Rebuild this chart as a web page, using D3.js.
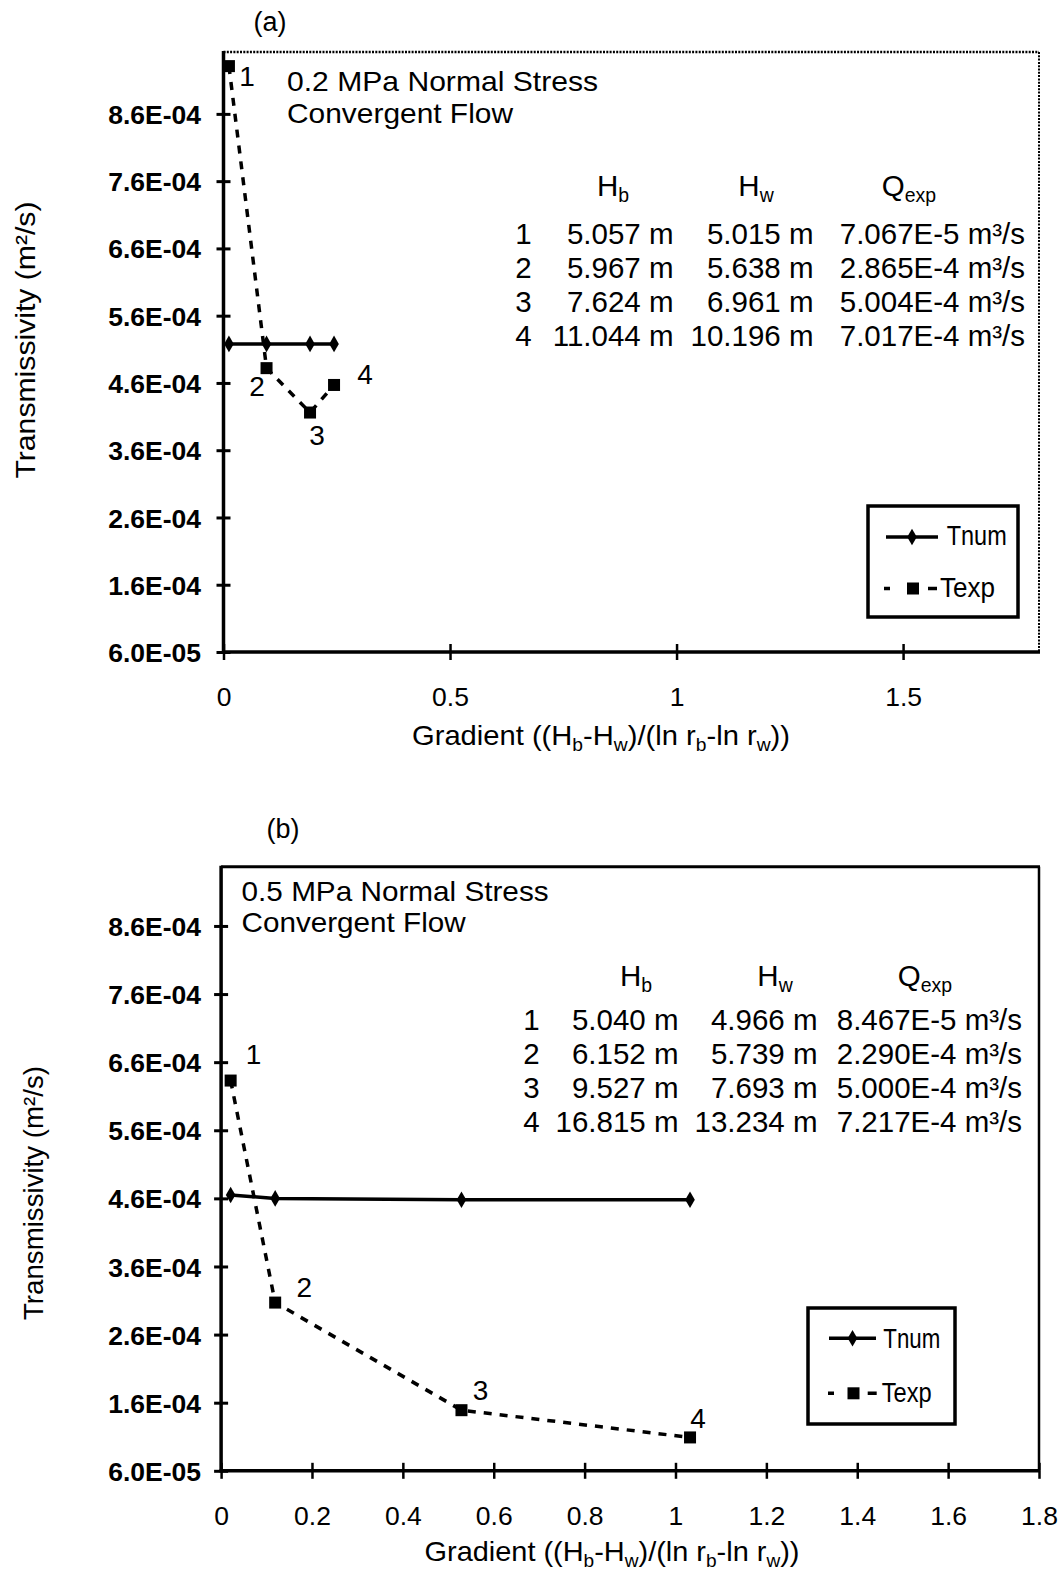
<!DOCTYPE html>
<html><head><meta charset="utf-8">
<script src="https://cdn.jsdelivr.net/npm/d3@7"></script>
<style>
body{margin:0;background:#fff}
svg{display:block;background:#fff}
text{font-family:"Liberation Sans",Arial,Helvetica,sans-serif;fill:#000}
</style>
</head><body>
<svg id="c" width="1060" height="1579"></svg>
<script>
// ---------------- data ----------------
const yTickValues = [6e-5, 1.6e-4, 2.6e-4, 3.6e-4, 4.6e-4, 5.6e-4, 6.6e-4, 7.6e-4, 8.6e-4];
const yTickLabels = ["6.0E-05","1.6E-04","2.6E-04","3.6E-04","4.6E-04","5.6E-04","6.6E-04","7.6E-04","8.6E-04"];
const xTicksA = [0, 0.5, 1, 1.5];
const xTickLabelsA = ["0","0.5","1","1.5"];
const xTicksB = [0, 0.2, 0.4, 0.6, 0.8, 1, 1.2, 1.4, 1.6, 1.8];
const xTickLabelsB = ["0","0.2","0.4","0.6","0.8","1","1.2","1.4","1.6","1.8"];
const pointIds = ["1","2","3","4"];
const seriesNames = ["Tnum","Texp"];

// panel (a): 0.2 MPa
const gradientA = [0.012, 0.095, 0.191, 0.244];
const tnumA = [5.18e-4, 5.18e-4, 5.18e-4, 5.18e-4];
const texpA = [9.31e-4, 4.82e-4, 4.16e-4, 4.57e-4];
const hbA = ["5.057 m","5.967 m","7.624 m","11.044 m"];
const hwA = ["5.015 m","5.638 m","6.961 m","10.196 m"];
const qA  = ["7.067E-5","2.865E-4","5.004E-4","7.017E-4"];

// panel (b): 0.5 MPa
const gradientB = [0.021, 0.119, 0.529, 1.032];
const tnumB = [4.65e-4, 4.60e-4, 4.58e-4, 4.58e-4];
const texpB = [6.33e-4, 3.07e-4, 1.49e-4, 1.09e-4];
const hbB = ["5.040 m","6.152 m","9.527 m","16.815 m"];
const hwB = ["4.966 m","5.739 m","7.693 m","13.234 m"];
const qB  = ["8.467E-5","2.290E-4","5.000E-4","7.217E-4"];

// ---------------- layout ----------------
const panelA = {
  letter:"(a)", letterPos:[270,31],
  x0:223.5, x1:1039, yb:652, yt:52, ymax:9.52e-4, xmax:1.8,
  xTicks:xTicksA, xTickLabels:xTickLabelsA, xLabelDY:54,
  yLabelPad:22.5,
  dottedFrame:true,
  stress:"0.2 MPa Normal Stress", stressPos:[287,90.5,311], flowPos:[287,123,226],
  tableHeadY:196, headX:[613,756,909], rowY:[244,278,312,346],
  colX:[523.5,673.5,813.5,1025],
  legend:{x:868,y:506,w:150,h:111, l1:[886,938,537], t1:[946.7,545,60], l2:[884,937,588.5], sq:913, t2:[940,597,55]},
  labelOff:[[18,20],[-9.5,28],[7,32],[31,-1]],
  yTitle:[35,340,277], xTitle:[601,745,378]
};
const panelB = {
  letter:"(b)", letterPos:[283,838],
  x0:221.1, x1:1039, yb:1470.8, yt:866.7, ymax:9.47e-4, xmax:1.8,
  xTicks:xTicksB, xTickLabels:xTickLabelsB, xLabelDY:1525-1470.8,
  yLabelPad:20,
  dottedFrame:false,
  stress:"0.5 MPa Normal Stress", stressPos:[241.6,901,307], flowPos:[241.6,932,224],
  tableHeadY:986, headX:[636,775,925], rowY:[1030,1064,1098,1132],
  colX:[531.5,678.5,817.5,1022],
  legend:{x:808,y:1308,w:147,h:116, l1:[829,876,1338.3], t1:[883.3,1348,57], l2:[828,876.7,1393.3], sq:853.5, t2:[881.7,1402,50]},
  labelOff:[[23,-17],[29,-6],[19,-10],[8,-9]],
  yTitle:[43,1193,254], xTitle:[612,1561,375]
};

const svg = d3.select("#c");

function subText(sel, parts, size){
  parts.forEach(([t, sub], i) => {
    const ts = sel.append("tspan").text(t);
    if (sub) ts.attr("font-size", size*0.66).attr("dy", size*0.22);
    else if (i>0 && parts[i-1][1]) ts.attr("dy", -size*0.22);
  });
}

function drawPanel(p, grad, tnum, texp, hb, hw, q){
  const g = svg.append("g");
  const x = d3.scaleLinear().domain([0, p.xmax]).range([p.x0, p.x1]);
  const y = d3.scaleLinear().domain([6e-5, p.ymax]).range([p.yb, p.yt]);

  // frame
  const fr = g.append("g").attr("stroke","#000").attr("fill","none");
  if (p.dottedFrame){
    fr.append("line").attr("x1",p.x0).attr("x2",p.x1).attr("y1",p.yt).attr("y2",p.yt)
      .attr("stroke-width",2.5).attr("stroke-dasharray","2,1.3");
    fr.append("line").attr("x1",p.x1).attr("x2",p.x1).attr("y1",p.yt).attr("y2",p.yb)
      .attr("stroke-width",2).attr("stroke-dasharray","2,1.3");
  } else {
    fr.append("line").attr("x1",p.x0).attr("x2",p.x1+1).attr("y1",p.yt).attr("y2",p.yt).attr("stroke-width",3);
    fr.append("line").attr("x1",p.x1).attr("x2",p.x1).attr("y1",p.yt).attr("y2",p.yb).attr("stroke-width",2.5);
  }

  // y axis: labels + crossing ticks
  const ya = g.append("g").attr("transform",`translate(${p.x0},0)`)
    .call(d3.axisLeft(y).tickValues(yTickValues).tickFormat((d,i)=>yTickLabels[i]).tickSize(7))
    .call(s=>s.select(".domain").remove());
  ya.selectAll("line").attr("stroke","#000").attr("stroke-width",3);
  ya.selectAll("text").attr("x",-p.yLabelPad).attr("dy","0.36em")
    .attr("font-size",26.5).attr("font-weight","bold")
    .style("font-family",'"Liberation Sans",Arial,sans-serif');
  g.append("g").attr("transform",`translate(${p.x0},0)`)
    .call(d3.axisRight(y).tickValues(yTickValues).tickFormat("").tickSize(7))
    .call(s=>s.select(".domain").remove())
    .selectAll("line").attr("stroke","#000").attr("stroke-width",3);

  // x axis
  const xa = g.append("g").attr("transform",`translate(0,${p.yb})`)
    .call(d3.axisBottom(x).tickValues(p.xTicks).tickFormat((d,i)=>p.xTickLabels[i]).tickSize(8))
    .call(s=>s.select(".domain").remove());
  xa.selectAll("line").attr("stroke","#000").attr("stroke-width",2.5);
  xa.selectAll("text").attr("y",p.xLabelDY).attr("dy",0).attr("font-size",26.5)
    .style("font-family",'"Liberation Sans",Arial,sans-serif');
  g.append("g").attr("transform",`translate(0,${p.yb})`)
    .call(d3.axisTop(x).tickValues(p.xTicks).tickFormat("").tickSize(8))
    .call(s=>s.select(".domain").remove())
    .selectAll("line").attr("stroke","#000").attr("stroke-width",2.5);

  // axis lines (thick)
  g.append("line").attr("x1",p.x0).attr("x2",p.x0).attr("y1",p.yt-1).attr("y2",p.yb+1.5)
    .attr("stroke","#000").attr("stroke-width",3.5);
  g.append("line").attr("x1",p.x0-1.5).attr("x2",p.x1+1).attr("y1",p.yb).attr("y2",p.yb)
    .attr("stroke","#000").attr("stroke-width",3.5);

  // series
  const idx = d3.range(grad.length);
  const lineNum = d3.line().x(i=>x(grad[i])).y(i=>y(tnum[i]));
  const lineExp = d3.line().x(i=>x(grad[i])).y(i=>y(texp[i]));
  g.append("path").attr("d",lineNum(idx)).attr("fill","none").attr("stroke","#000").attr("stroke-width",3.5);
  g.append("path").attr("d",lineExp(idx)).attr("fill","none").attr("stroke","#000")
    .attr("stroke-width",3.5).attr("stroke-dasharray","8,8");
  const diamond = d3.symbol().type(d3.symbolDiamond).size(80);
  g.selectAll(null).data(idx).join("path").attr("d",diamond)
    .attr("transform",i=>`translate(${x(grad[i])},${y(tnum[i])})`).attr("fill","#000");
  g.selectAll(null).data(idx).join("rect")
    .attr("x",i=>x(grad[i])-6).attr("y",i=>y(texp[i])-6).attr("width",12).attr("height",12).attr("fill","#000");
  g.selectAll(null).data(idx).join("text")
    .attr("x",i=>x(grad[i])+p.labelOff[i][0]).attr("y",i=>y(texp[i])+p.labelOff[i][1])
    .attr("text-anchor","middle").attr("font-size",28).text(i=>pointIds[i]);

  // panel letter
  g.append("text").attr("x",p.letterPos[0]).attr("y",p.letterPos[1]).attr("text-anchor","middle")
    .attr("font-size",27).text(p.letter);

  // annotation
  g.append("text").attr("x",p.stressPos[0]).attr("y",p.stressPos[1]).attr("font-size",28)
    .attr("textLength",p.stressPos[2]).attr("lengthAdjust","spacingAndGlyphs").text(p.stress);
  g.append("text").attr("x",p.flowPos[0]).attr("y",p.flowPos[1]).attr("font-size",28)
    .attr("textLength",p.flowPos[2]).attr("lengthAdjust","spacingAndGlyphs").text("Convergent Flow");

  // table
  const fs = 29.5;
  subText(g.append("text").attr("x",p.headX[0]).attr("y",p.tableHeadY).attr("text-anchor","middle").attr("font-size",fs), [["H",false],["b",true]], fs);
  subText(g.append("text").attr("x",p.headX[1]).attr("y",p.tableHeadY).attr("text-anchor","middle").attr("font-size",fs), [["H",false],["w",true]], fs);
  subText(g.append("text").attr("x",p.headX[2]).attr("y",p.tableHeadY).attr("text-anchor","middle").attr("font-size",fs), [["Q",false],["exp",true]], fs);
  idx.forEach(i=>{
    const yy = p.rowY[i];
    g.append("text").attr("x",p.colX[0]).attr("y",yy).attr("text-anchor","middle").attr("font-size",fs).text(pointIds[i]);
    g.append("text").attr("x",p.colX[1]).attr("y",yy).attr("text-anchor","end").attr("font-size",fs).text(hb[i]);
    g.append("text").attr("x",p.colX[2]).attr("y",yy).attr("text-anchor","end").attr("font-size",fs).text(hw[i]);
    g.append("text").attr("x",p.colX[3]).attr("y",yy).attr("text-anchor","end").attr("font-size",fs).text(q[i] + " m\u00B3/s");
  });

  // legend
  const L = p.legend;
  g.append("rect").attr("x",L.x).attr("y",L.y).attr("width",L.w).attr("height",L.h)
    .attr("fill","#fff").attr("stroke","#000").attr("stroke-width",3.5);
  g.append("line").attr("x1",L.l1[0]).attr("x2",L.l1[1]).attr("y1",L.l1[2]).attr("y2",L.l1[2])
    .attr("stroke","#000").attr("stroke-width",3.5);
  g.append("path").attr("d",diamond).attr("transform",`translate(${(L.l1[0]+L.l1[1])/2},${L.l1[2]})`);
  g.append("text").attr("x",L.t1[0]).attr("y",L.t1[1]).attr("font-size",28)
    .attr("textLength",L.t1[2]).attr("lengthAdjust","spacingAndGlyphs").text(seriesNames[0]);
  const len2 = L.l2[1]-L.l2[0];
  g.append("line").attr("x1",L.l2[0]).attr("x2",L.l2[1]).attr("y1",L.l2[2]).attr("y2",L.l2[2])
    .attr("stroke","#000").attr("stroke-width",3.5)
    .attr("stroke-dasharray",`6,${len2-15},9`);
  g.append("rect").attr("x",L.sq-6).attr("y",L.l2[2]-6).attr("width",12).attr("height",12).attr("fill","#000");
  g.append("text").attr("x",L.t2[0]).attr("y",L.t2[1]).attr("font-size",28)
    .attr("textLength",L.t2[2]).attr("lengthAdjust","spacingAndGlyphs").text(seriesNames[1]);

  // axis titles
  g.append("text").attr("transform",`translate(${p.yTitle[0]},${p.yTitle[1]}) rotate(-90)`)
    .attr("text-anchor","middle").attr("font-size",28)
    .attr("textLength",p.yTitle[2]).attr("lengthAdjust","spacingAndGlyphs")
    .text("Transmissivity (m\u00B2/s)");
  const xt = g.append("text").attr("x",p.xTitle[0]).attr("y",p.xTitle[1]).attr("text-anchor","middle")
    .attr("font-size",28).attr("textLength",p.xTitle[2]).attr("lengthAdjust","spacingAndGlyphs");
  subText(xt, [["Gradient ((H",false],["b",true],["-H",false],["w",true],[")/(ln r",false],["b",true],["-ln r",false],["w",true],["))",false]], 28);
}

drawPanel(panelA, gradientA, tnumA, texpA, hbA, hwA, qA);
drawPanel(panelB, gradientB, tnumB, texpB, hbB, hwB, qB);
</script>
</body></html>
